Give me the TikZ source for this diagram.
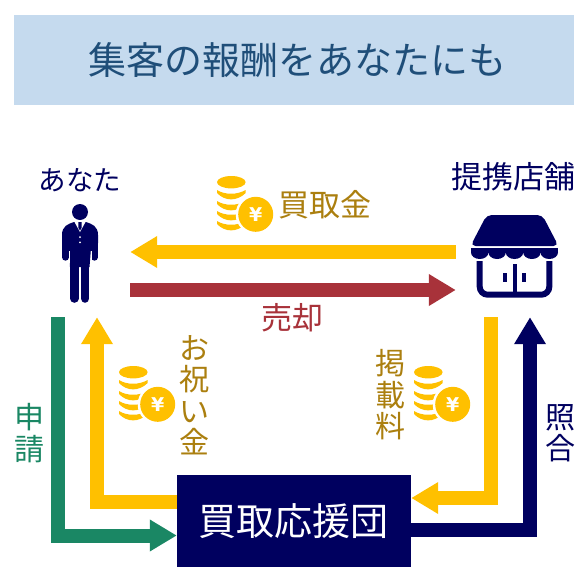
\documentclass[tikz,border=0pt]{standalone}
\usepackage{fontspec}
\setmainfont{Noto Sans CJK JP}
\newfontfamily\yenfont{DejaVu Sans}
\usetikzlibrary{arrows.meta,positioning}

\definecolor{navy}{HTML}{00005F}
\definecolor{gold}{HTML}{FFC000}
\definecolor{brown}{HTML}{AB7F0F}
\definecolor{wine}{HTML}{A8323A}
\definecolor{teal}{HTML}{1A8764}
\definecolor{band}{HTML}{C5DAEE}
\definecolor{ink}{HTML}{1F4E79}

\tikzset{
    person/.pic={
        \fill [navy] (0,-41) circle [radius=8pt];
        \fill [navy] (-6,-31) .. controls (-12,-29) and (-18,-27) .. (-18,-18) -- (-18,-10) -- (-11,-5) -- (-10,14) -- (9.5,14) -- (11,-5) -- (18,-10) -- (18,-18) .. controls (18,-27) and (12,-29) .. (6,-31) -- cycle;
        \draw [navy, line width=7pt, line cap=round] (-14.5,-18) -- (-14.5,4.2);
        \draw [navy, line width=7pt, line cap=round] (14.5,-18) -- (14.5,4.2);
        \draw [navy, line width=8.6pt, line cap=round] (-5.6,10) -- (-5.6,45.5);
        \draw [navy, line width=8.6pt, line cap=round] (5.1,10) -- (5.1,45.5);
        \fill [white] (-5.5,-31) -- (0,-21) -- (5.5,-31) -- cycle;
        \fill [navy] (-1.6,-31) -- (1.6,-31) -- (1.6,-25) -- (0,-22.5) -- (-1.6,-25) -- cycle;
        \fill [white] (0,-16) circle [radius=1pt];
        \fill [white] (0,-10.7) circle [radius=1pt];
        \draw [white, line width=.5pt] (-10.8,-2) -- (-10.8,10);
        \draw [white, line width=.5pt] (10.8,-2) -- (10.8,10);
    },
    store/.pic={
        \fill [navy, rounded corners=5pt] (-27.8,-41) -- (27.8,-41) -- (44,-10) -- (-44,-10) -- cycle;
        \fill [navy] (-43.5,-8) rectangle (43.5,-3);
        \foreach \i in {0,...,4}
            \fill [navy] ({-43.5+17.4*\i},-3.5) arc [start angle=180, end angle=360, x radius=8.7pt, y radius=6.5pt];
        \draw [navy, line width=6pt, rounded corners=8pt] (-34.8,5) -- (-34.8,38.7) -- (34.8,38.7) -- (34.8,5);
        \draw [navy, line width=4pt] (0,8.3) -- (0,36);
        \fill [navy] (-11.2,16.7) rectangle (-7.2,26.3);
        \fill [navy] (7.2,16.7) rectangle (11.2,26.3);
    },
    coin/.pic={
        \fill [gold] (14.3,6.2) ellipse [x radius=14.3pt, y radius=6.2pt];
        \foreach \a in {14,25,35,45}
            \fill [gold] (0,\a) .. controls (8,\a+5) and (20,\a+5) .. (28.7,\a) -- (28.7,\a+3) .. controls (20,\a+11.5) and (8,\a+11.5) .. (0,\a+3) -- cycle;
        \fill [white] (38.7,38.3) circle [radius=20pt];
        \fill [gold] (38.7,38.3) circle [radius=17.5pt];
        \node [text=white, font=\yenfont\bfseries\fontsize{19}{19}\selectfont] (-yen) at (38.7,38.3) {¥};
    }
}

\begin{document}
\begin{tikzpicture}[
    x=1pt, y=-1pt,
    banner/.style={rectangle, fill=band, text=ink, minimum width=560pt, minimum height=90pt, inner sep=0pt, font=\fontsize{38}{38}\selectfont},
    caption/.style={inner sep=0pt, align=center, font=\fontsize{30}{31.5}\selectfont},
    icon/.style={rectangle, inner sep=0pt},
    desk/.style={rectangle, fill=navy, text=white, minimum width=234pt, minimum height=92pt, inner sep=0pt, font=\fontsize{38}{38}\selectfont},
    line/.style={draw, line width=14pt, -{Triangle[length=27pt, width=30pt]}}
]

\useasboundingbox (0,0) rectangle (588,586);

\node [banner] (title) at (294,60) {\hspace*{6pt}\raisebox{2pt}{集客の報酬をあなたにも}};

\node [caption, text=navy, font=\fontsize{27.5}{27.5}\selectfont] (youname) at (80,180) {あなた};
\node [icon, below of=youname, node distance=73pt, minimum width=100pt, minimum height=128pt] (you) {};
\node [caption, text=navy, font=\fontsize{31}{31}\selectfont] (shopname) at (513.5,177) {提携店舗};
\node [icon, minimum width=117pt, minimum height=122pt] (shop) at (514.5,256) {};
\node [desk] (office) at (294,521) {\hspace*{-2pt}買取応援団};

\pic at (you.center) {person};
\pic at (shop.center) {store};
\pic (paid) at (217,176) {coin};
\pic (gift) at (119,366) {coin};
\pic (fee) at (414,366) {coin};

\node [caption, text=brown, font=\fontsize{31}{31}\selectfont] (price) at (325,205) {買取金};
\node [caption, text=wine, font=\fontsize{31}{31}\selectfont] (sale) at (292,318) {売却};
\node [caption, text=brown] (giftname) at (194,395) {お\\祝\\い\\金};
\node [caption, text=brown] (feename) at (390,395) {掲\\載\\料};
\node [caption, text=teal] (apply) at (29.5,433) {申\\請};
\node [caption, text=navy] (check) at (560,433) {照\\合};

\path [line, gold] ([yshift=4pt]shop.west) -- ([yshift=1pt]you.east);
\path [line, wine] ([yshift=-37pt]you.east) -- ([yshift=-34pt]shop.west);
\path [line, teal] ([xshift=-22pt]you.south) |- ([yshift=-14.5pt]office.west);
\path [line, gold] ([yshift=19pt]office.west) -| ([xshift=17pt]you.south);
\path [line, gold] ([xshift=-23.5pt]shop.south) |- ([yshift=23pt]office.east);
\path [line, navy] ([yshift=-9pt]office.east) -| ([xshift=15.5pt]shop.south);

\end{tikzpicture}
\end{document}
